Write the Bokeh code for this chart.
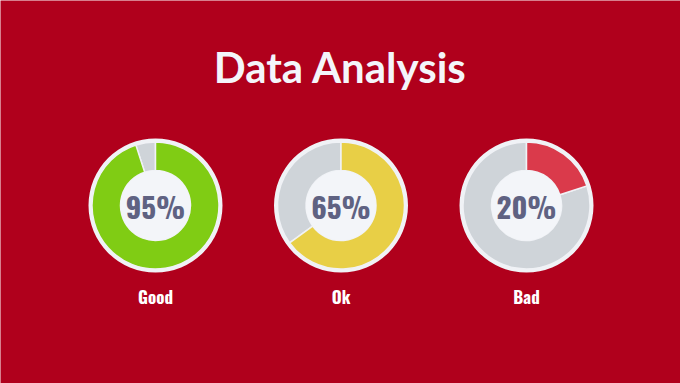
import math
from bokeh.plotting import figure
from bokeh.models import ColumnDataSource
from bokeh.core.properties import value
from bokeh.embed import file_html
from bokeh.resources import INLINE

# ---- data ----
title_text = "Data Analysis"
categories = ["Good", "Ok", "Bad"]
percent_values = [95, 65, 20]
value_colors = ["#80cc14", "#e8cf46", "#da3a4b"]

# ---- style / layout ----
W, H = 680, 383
BG = "#b0001c"
RING = "#f0f2f6"
TRACK = "#cfd4d9"
INNER = "#f3f5f9"
TEXT_DARK = "#5f6282"

cx0, dx = 155, 185.5
cy = H - 205
label_y = H - 296
xs = [cx0 + i * dx for i in range(len(categories))]

p = figure(width=W, height=H, x_range=(0, W), y_range=(0, H),
           output_backend="svg", toolbar_location=None,
           x_axis_location=None, y_axis_location=None,
           min_border=0, outline_line_color=None,
           background_fill_color=BG, border_fill_color=BG)
p.grid.visible = False

src = ColumnDataSource(dict(
    x=xs, y=[cy] * len(xs), ly=[label_y] * len(xs), cat=categories,
    pct=[f"{v}%" for v in percent_values],
    color=value_colors,
    start=[math.pi / 2] * len(xs),
    end=[math.pi / 2 - 2 * math.pi * v / 100 for v in percent_values],
))

# white outer ring
p.circle(x="x", y="y", radius=67, source=src, fill_color=RING, line_color=None)
# grey track (remaining part)
p.annular_wedge(x="x", y="y", inner_radius=35, outer_radius=63.5,
                start_angle="end", end_angle="start", direction="clock",
                source=src, fill_color=TRACK, line_color=RING, line_width=1.5)
# value part
p.annular_wedge(x="x", y="y", inner_radius=35, outer_radius=63.5,
                start_angle="start", end_angle="end", direction="clock",
                source=src, fill_color="color", line_color=RING, line_width=1.5)
# inner disc
p.circle(x="x", y="y", radius=35, source=src, fill_color=INNER, line_color=None)

# percentage labels
p.text(x="x", y="y", text="pct", source=src, text_align="center",
       text_baseline="middle", text_color=TEXT_DARK,
       text_font=value("Oswald"), text_font_style="bold",
       text_font_size="29px")

# category labels
p.text(x="x", y="ly", text="cat", source=src,
       text_align="center", text_baseline="middle", text_color="white",
       text_font=value("Oswald"), text_font_style="bold",
       text_font_size="17px")

# title
p.text(x=[W / 2], y=[H - 66], text=[title_text], text_align="center",
       text_baseline="middle", text_color="#f4f5fa",
       text_font=value("Lato"), text_font_style="bold", text_font_size="42px")

open("out.html", "w").write(file_html(p, INLINE))
